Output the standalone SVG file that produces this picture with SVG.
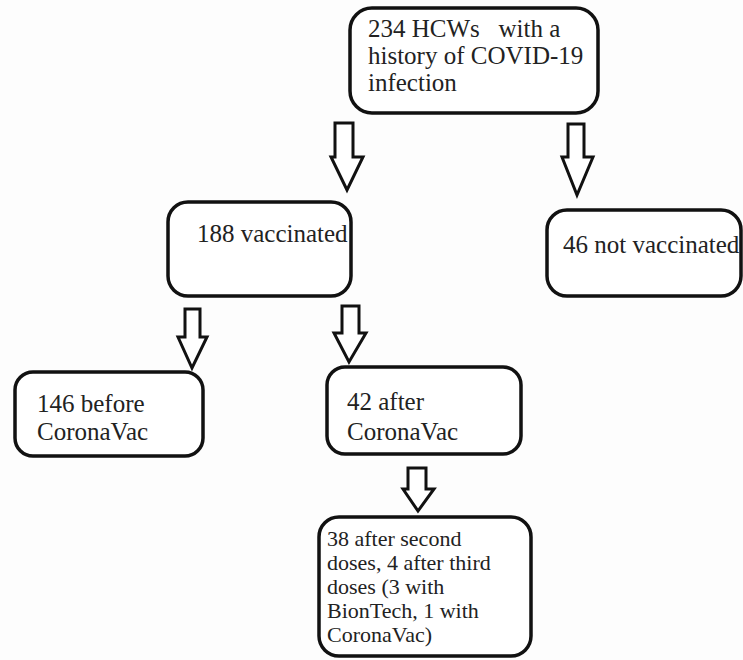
<svg xmlns="http://www.w3.org/2000/svg" width="743" height="660" viewBox="0 0 743 660">
<style>
.box{fill:#fff;stroke:#111;stroke-width:3.5}
.arr{fill:#fff;stroke:#111;stroke-width:3;stroke-linejoin:miter}
.t{font-family:'Liberation Serif','Times New Roman',Tinos,'DejaVu Serif','Noto Serif',serif;font-size:25px;fill:#222;white-space:pre}
.s{font-size:22px}
</style>
<rect width="743" height="660" fill="#fdfdfd"/>
<g id="connectors">
<polygon class="arr" points="335,123 353,123 353,157 363,157 347,190 331,157 335,157"/>
<polygon class="arr" points="568,124 584,124 584,157 593,157 577,195 562,157 568,157"/>
<polygon class="arr" points="185,309 200,309 200,337 207,337 192,368 178,337 185,337"/>
<polygon class="arr" points="342,306 359,306 359,333 366,333 349,362 334,333 342,333"/>
<polygon class="arr" points="408,468 426,468 426,489 434,489 418,511 403,489 408,489"/>
</g>
<g id="n-total">
<rect class="box" x="350" y="8" width="248" height="105" rx="22"/>
<text class="t" x="368" y="37" xml:space="preserve">234 HCWs   with a</text>
<text class="t" x="368" y="64">history of COVID-19</text>
<text class="t" x="368" y="91">infection</text>
</g>
<g id="n-vacc">
<rect class="box" x="168" y="202" width="183" height="94" rx="20"/>
<text class="t" x="197" y="242">188 vaccinated</text>
</g>
<g id="n-notvacc">
<rect class="box" x="547" y="210" width="194" height="86" rx="20"/>
<text class="t" x="563" y="253">46 not vaccinated</text>
</g>
<g id="n-before">
<rect class="box" x="15" y="372" width="188" height="84" rx="18"/>
<text class="t" x="37" y="412">146 before</text>
<text class="t" x="37" y="440">CoronaVac</text>
</g>
<g id="n-after">
<rect class="box" x="327" y="367" width="194" height="87" rx="18"/>
<text class="t" x="347" y="410">42 after</text>
<text class="t" x="347" y="440">CoronaVac</text>
</g>
<g id="n-doses">
<rect class="box" x="319" y="517" width="212" height="139" rx="20"/>
<text class="t s" x="327" y="546">38 after second</text>
<text class="t s" x="327" y="570">doses, 4 after third</text>
<text class="t s" x="327" y="594">doses (3 with</text>
<text class="t s" x="327" y="618">BionTech, 1 with</text>
<text class="t s" x="327" y="642">CoronaVac)</text>
</g>
</svg>
